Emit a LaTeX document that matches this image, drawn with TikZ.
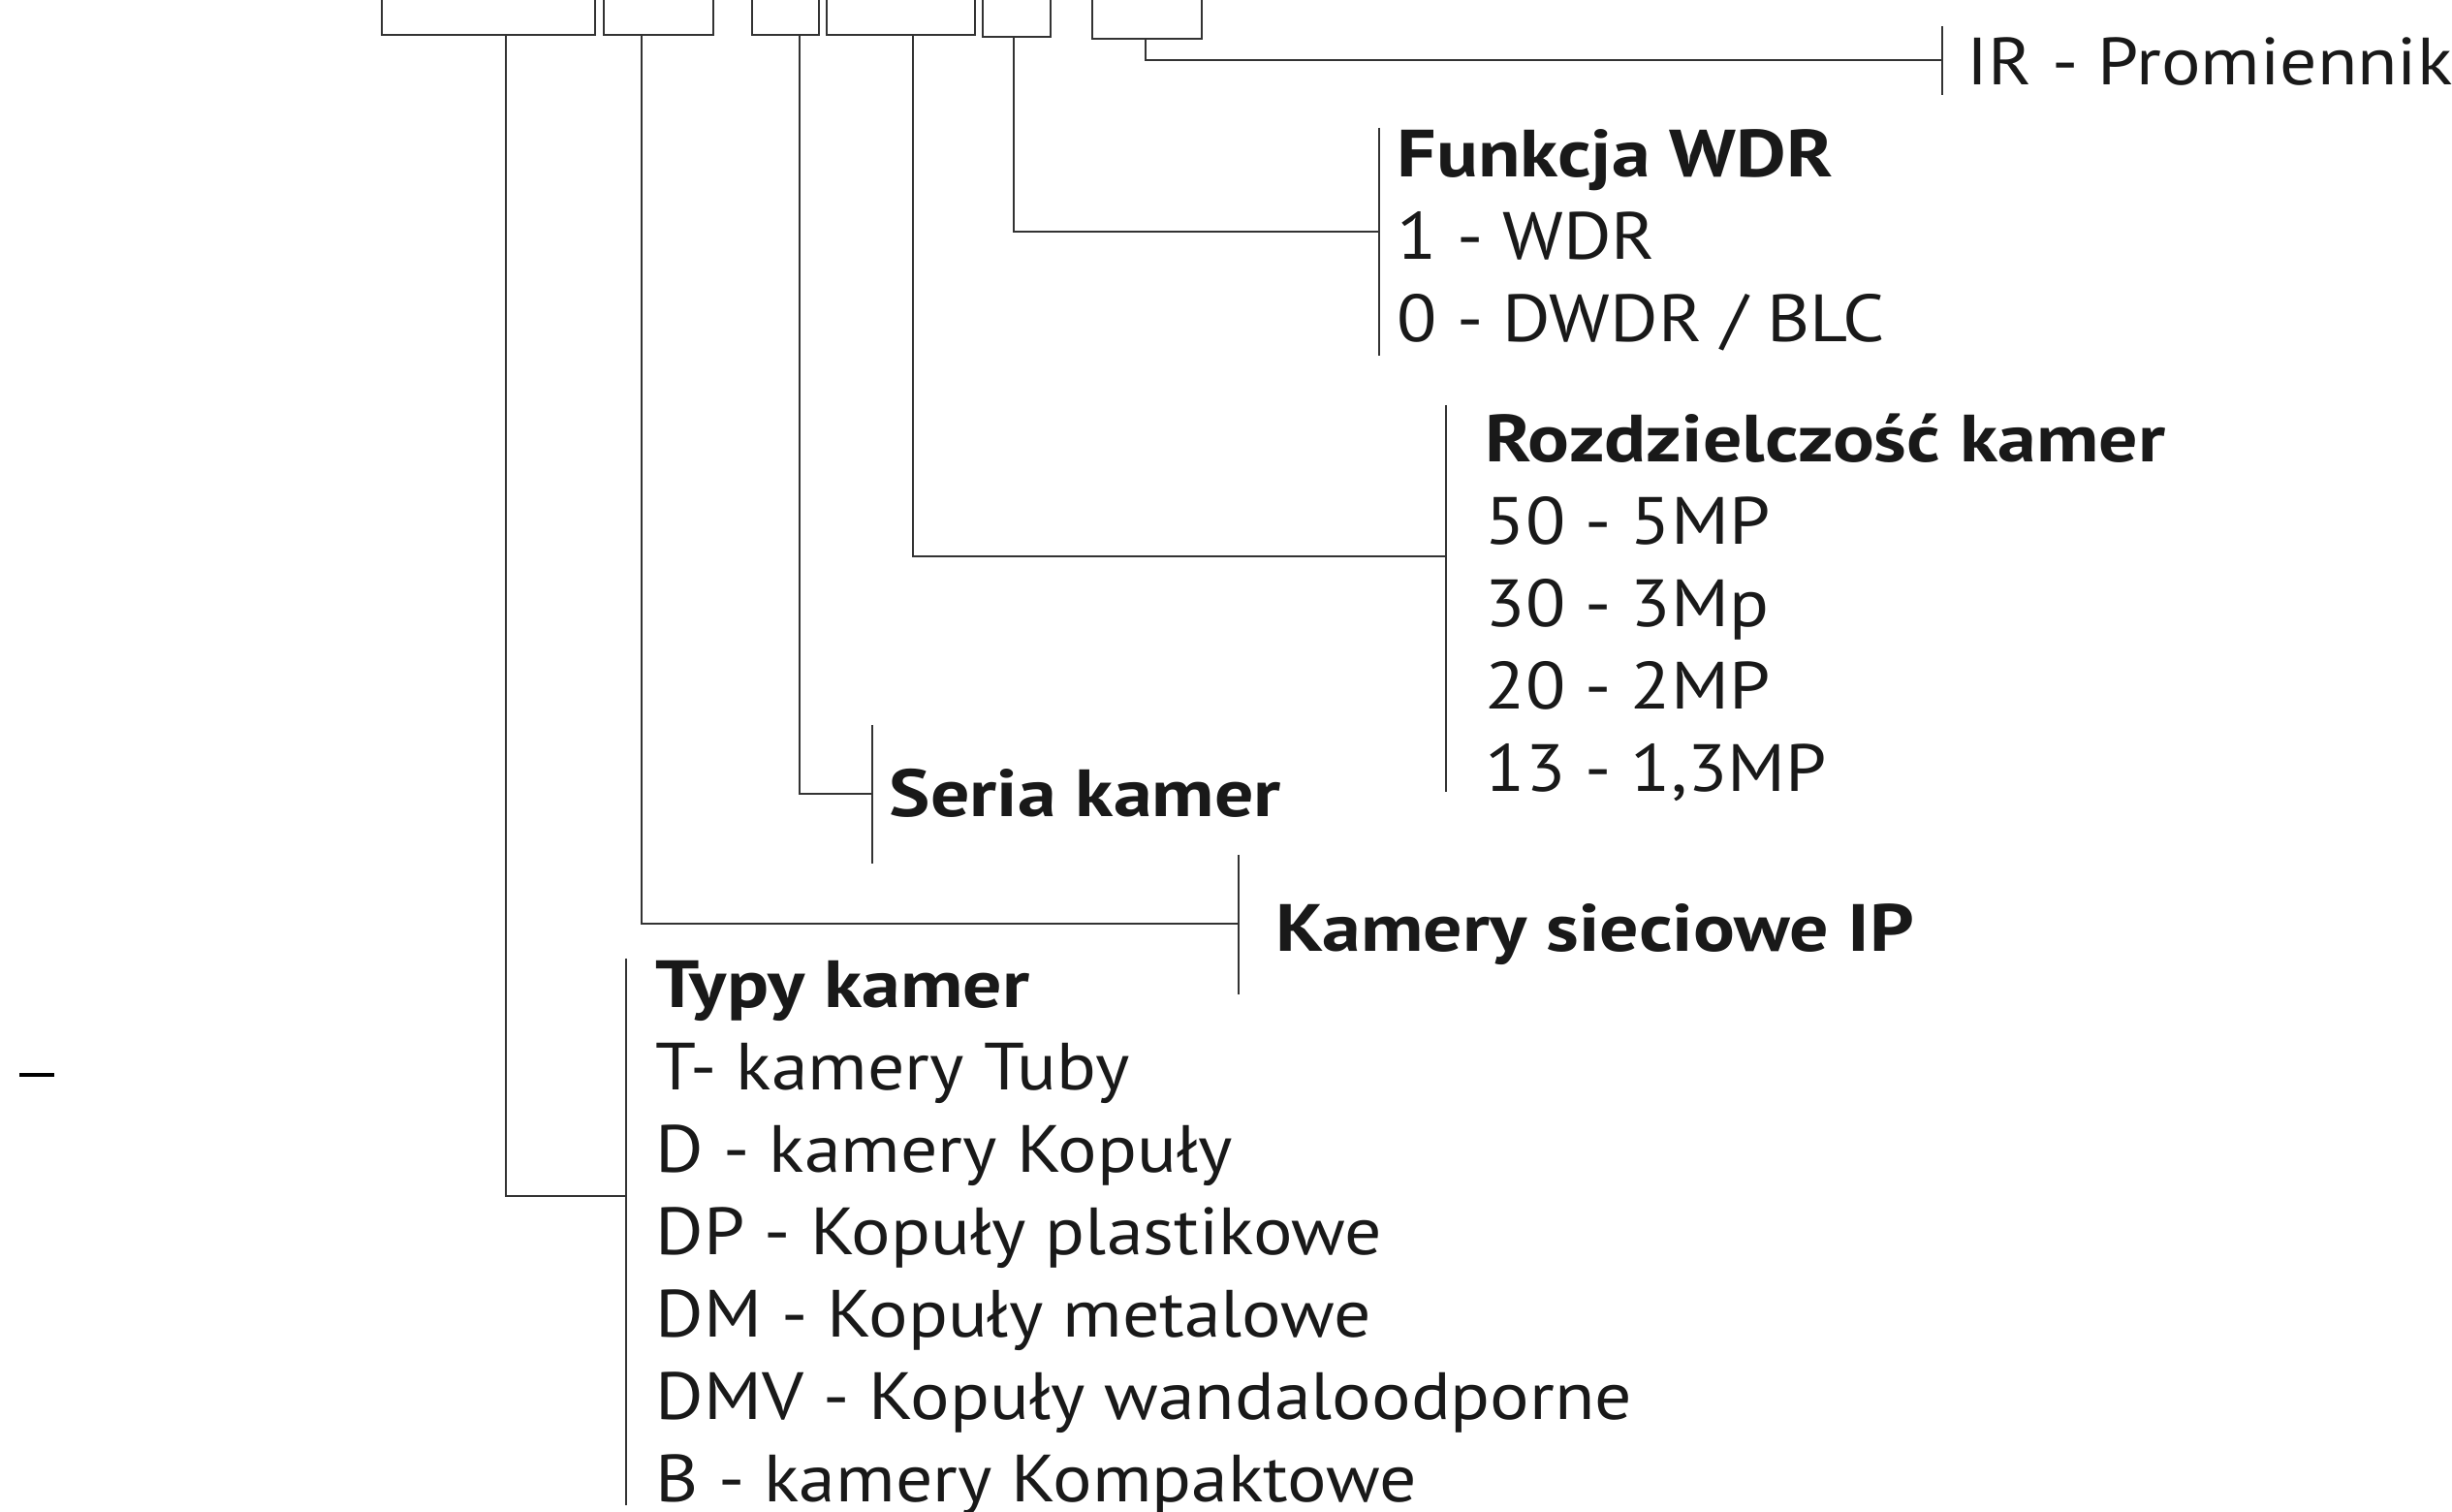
\documentclass[tikz,border=0pt]{standalone}
\usepackage{fontspec}
\setmainfont{PT Sans}[FakeStretch=1.10, BoldFeatures={FakeStretch=1.16}]
\usetikzlibrary{positioning,calc}

\begin{document}
\begin{tikzpicture}[
    seg/.style={draw=black!80, line width=0.6pt, anchor=south west, inner sep=0pt, minimum height=1.2cm},
    ln/.style={draw=black!80, line width=0.6pt},
    grp/.style={anchor=base west, align=left, inner sep=0pt, text=black!90, font=\fontsize{19.6}{24.2}\selectfont}
]
    \useasboundingbox (0,0) rectangle (25.30,-15.60);
    \clip (0,0) rectangle (25.30,-15.60);

    % pola oznaczenia (gora)
    \node[seg, minimum width=2.199cm] (typ) at (3.932,-0.370) {};
    \node[seg, minimum width=1.131cm] (ip) at (6.222,-0.370) {};
    \node[seg, minimum width=0.693cm] (seria) at (7.750,-0.370) {};
    \node[seg, minimum width=1.533cm] (rozdz) at (8.518,-0.370) {};
    \node[seg, minimum width=0.702cm] (wdr) at (10.125,-0.387) {};
    \node[seg, minimum width=1.136cm] (ir) at (11.256,-0.407) {};

    % listwy z opisami
    \coordinate (ir-t) at (20.04,-0.27);   \coordinate (ir-b) at (20.04,-0.98);   \coordinate (ir-j) at (20.04,-0.623);
    \coordinate (wdr-t) at (14.23,-1.317); \coordinate (wdr-b) at (14.23,-3.667); \coordinate (wdr-j) at (14.23,-2.393);
    \coordinate (rozdz-t) at (14.92,-4.18); \coordinate (rozdz-b) at (14.92,-8.17); \coordinate (rozdz-j) at (14.92,-5.74);
    \coordinate (seria-t) at (9.00,-7.48); \coordinate (seria-b) at (9.00,-8.91); \coordinate (seria-j) at (9.00,-8.19);
    \coordinate (ip-t) at (12.78,-8.82);   \coordinate (ip-b) at (12.78,-10.26); \coordinate (ip-j) at (12.78,-9.53);
    \coordinate (typ-t) at (6.46,-9.89);   \coordinate (typ-b) at (6.46,-15.53); \coordinate (typ-j) at (6.46,-12.34);

    \foreach \g in {ir,wdr,rozdz,seria,ip,typ}
        \draw[ln] (\g-t) -- (\g-b);

    % opisy (kotwica na linii bazowej ostatniego wiersza)
    \node[grp] (ir-txt) at (20.29,-0.873) {IR - Promiennik};
    \node[grp] (wdr-txt) at (14.41,-3.524) {\textbf{Funkcja WDR}\\1 - WDR\\0 - DWDR / BLC};
    \node[grp] (rozdz-txt) at (15.32,-8.165) {\textbf{Rozdzielczość kamer}\\50 - 5MP\\30 - 3Mp\\20 - 2MP\\13 - 1,3MP};
    \node[grp] (seria-txt) at (9.17,-8.43) {\textbf{Seria kamer}};
    \node[grp] (ip-txt) at (13.16,-9.82) {\textbf{Kamery sieciowe IP}};
    \node[grp] (typ-txt) at (6.76,-15.50) {\textbf{Typy kamer}\\T- kamery Tuby\\D - kamery Kopuły\\DP - Kopuły plastikowe\\DM - Kopuły metalowe\\DMV - Kopuły wandaloodporne\\B - kamery Kompaktowe};

    % polaczenia
    \draw[ln] ($(ir.south west)+(0.563,0)$) |- (ir-j);
    \draw[ln] ($(wdr.south west)+(0.339,0)$) |- (wdr-j);
    \draw[ln] ($(rozdz.south west)+(0.902,0)$) |- (rozdz-j);
    \draw[ln] ($(seria.south west)+(0.500,0)$) |- (seria-j);
    \draw[ln] ($(ip.south west)+(0.398,0)$) |- (ip-j);
    \draw[ln] ($(typ.south west)+(1.291,0)$) |- (typ-j);

    \coordinate (kreska-a) at (0.20,-11.09);
    \coordinate (kreska-b) at (0.56,-11.09);
    \draw[line width=1pt] (kreska-a) -- (kreska-b);
\end{tikzpicture}
\end{document}
